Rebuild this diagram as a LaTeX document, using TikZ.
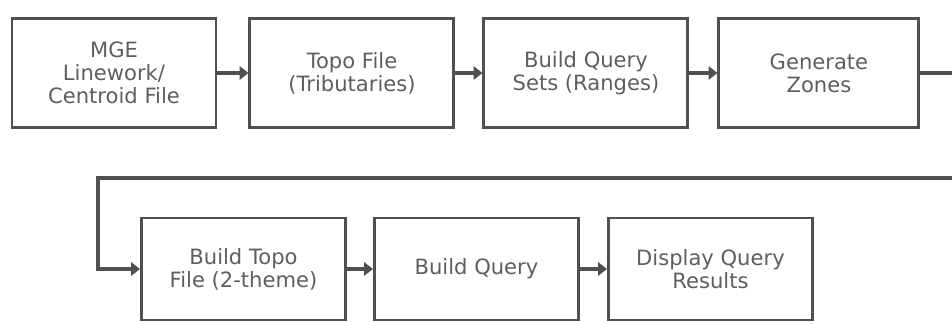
\documentclass[tikz,border=0pt]{standalone}
\usepackage{xcolor}
\usepackage{fontspec}
\setmainfont{DejaVu Sans}
\usepackage{tikz}
\usetikzlibrary{arrows.meta, positioning}

\definecolor{inkgray}{HTML}{505050}
\definecolor{textgray}{HTML}{5E5E5E}

\begin{document}
\begin{tikzpicture}[
    every node/.style={font=\fontsize{12pt}{13pt}\selectfont, text=textgray},
    procbox/.style={draw=inkgray, line width=1.7pt, fill=white, minimum width=4.08cm,
                    minimum height=2.18cm, align=center, inner sep=2pt},
    lowbox/.style={procbox, minimum height=2.04cm},
    flow/.style={draw=inkgray, line width=2.2pt, -{Triangle[length=5pt,width=7.5pt]}},
    backline/.style={flow, line width=2.8pt}
  ]
  \useasboundingbox (0,0) rectangle (19.04,6.46);
  % Top row
  \node[procbox] (mge) at (2.28,5.0) {MGE\\Linework/\\Centroid File};
  \node[procbox, right=0.62cm of mge] (topo) {Topo File\\(Tributaries)};
  \node[procbox, right=0.54cm of topo] (ranges) {Build Query\\Sets (Ranges)};
  \node[procbox, right=0.56cm of ranges, minimum width=4.0cm] (zones) {Generate\\Zones};
  % Bottom row
  \node[lowbox] (topo2) at (4.87,1.08) {Build Topo\\File (2-theme)};
  \node[lowbox, right=0.52cm of topo2] (query) {Build Query};
  \node[lowbox, right=0.54cm of query] (results) {Display Query\\Results};
  % Connectors
  \coordinate (turn) at (1.96,2.9);
  \draw[flow] (mge) -- (topo);
  \draw[flow] (topo) -- (ranges);
  \draw[flow] (ranges) -- (zones);
  \draw[backline] (zones.east) -- ++(0.9,0) |- (turn) |- (topo2.west);
  \draw[flow] (topo2) -- (query);
  \draw[flow] (query) -- (results);
\end{tikzpicture}
\end{document}
